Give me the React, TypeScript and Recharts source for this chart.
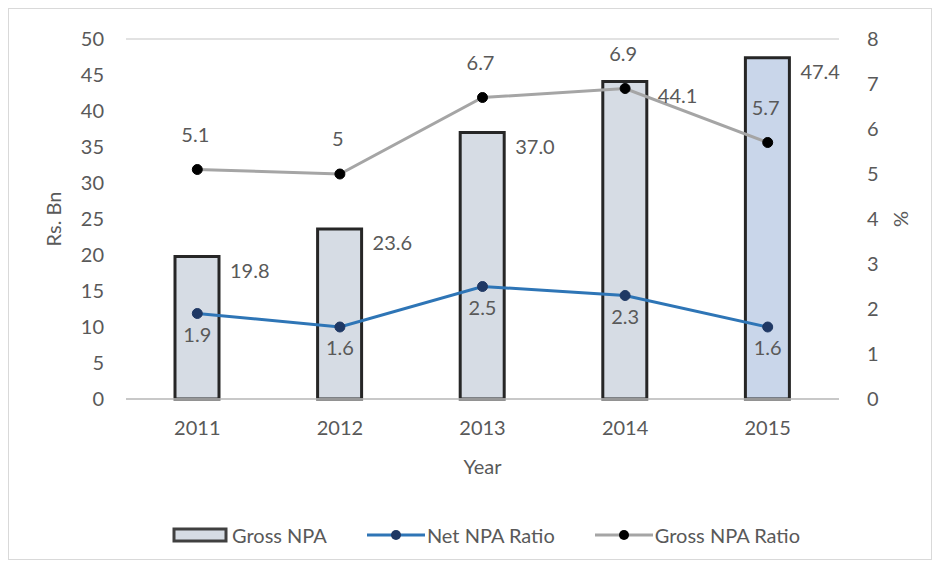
import React from "react";
import {
  ComposedChart,
  Bar,
  Line,
  XAxis,
  YAxis,
  CartesianGrid,
  Legend,
  LabelList,
  Cell,
} from "recharts";

const years = ["2011", "2012", "2013", "2014", "2015"];
const grossNpa = [19.8, 23.6, 37.0, 44.1, 47.4];
const netNpaRatio = [1.9, 1.6, 2.5, 2.3, 1.6];
const grossNpaRatio = [5.1, 5, 6.7, 6.9, 5.7];
const leftTicks = [0, 5, 10, 15, 20, 25, 30, 35, 40, 45, 50];
const rightTicks = [0, 1, 2, 3, 4, 5, 6, 7, 8];

const data = years.map((y, i) => ({
  year: y,
  gross: grossNpa[i],
  net: netNpaRatio[i],
  grossRatio: grossNpaRatio[i],
}));

const FONT = "Lato, 'Open Sans', sans-serif";
const TXT = "#595959";
const FS = 20;

const BarLabel = (props: any) => {
  const { x, y, width, value } = props;
  return (
    <text x={x + width + 11} y={y + 16} fill={TXT} fontSize={FS} fontFamily={FONT} dominantBaseline="middle">
      {Number(value).toFixed(1)}
    </text>
  );
};

const AboveLabel = (props: any) => {
  const { x, y, value } = props;
  return (
    <text x={x - 2} y={y - 33} fill={TXT} fontSize={FS} fontFamily={FONT} textAnchor="middle" dominantBaseline="middle">
      {value}
    </text>
  );
};

const BelowLabel = (props: any) => {
  const { x, y, value } = props;
  return (
    <text x={x} y={y + 23} fill={TXT} fontSize={FS} fontFamily={FONT} textAnchor="middle" dominantBaseline="middle">
      {value}
    </text>
  );
};

const LegendContent = () => (
  <div style={{ display: "flex", justifyContent: "center", fontFamily: FONT, fontSize: FS, color: TXT, paddingLeft: 32 }}>
    <div style={{ display: "flex", alignItems: "center" }}>
      <svg width={56} height={18}>
        <rect x={2} y={3} width={52} height={12} fill="#d6dce4" stroke="#404040" strokeWidth={3} />
      </svg>
      <span style={{ marginLeft: 4 }}>Gross NPA</span>
    </div>
    <div style={{ display: "flex", alignItems: "center", marginLeft: 40 }}>
      <svg width={58} height={18}>
        <line x1={0} y1={9} x2={58} y2={9} stroke="#2e75b6" strokeWidth={3} />
        <circle cx={29} cy={9} r={5} fill="#1f3864" />
      </svg>
      <span style={{ marginLeft: 2 }}>Net NPA Ratio</span>
    </div>
    <div style={{ display: "flex", alignItems: "center", marginLeft: 40 }}>
      <svg width={58} height={18}>
        <line x1={0} y1={9} x2={58} y2={9} stroke="#a5a5a5" strokeWidth={3} />
        <circle cx={29} cy={9} r={5} fill="#000" />
      </svg>
      <span style={{ marginLeft: 2 }}>Gross NPA Ratio</span>
    </div>
  </div>
);

export default function App() {
  return (
    <div style={{ width: 924, height: 552, border: "1px solid #d9d9d9", boxSizing: "border-box", background: "#fff" }}>
      <ComposedChart
        width={922}
        height={550}
        data={data}
        margin={{ top: 30, right: 20, bottom: 46, left: 20 }}
        barCategoryGap={0}
      >
        <CartesianGrid vertical={false} stroke="#d9d9d9" strokeWidth={1.5} />
        <XAxis
          dataKey="year"
          tickLine={false}
          axisLine={{ stroke: "#bfbfbf", strokeWidth: 1.5 }}
          tick={{ fill: TXT, fontSize: FS, fontFamily: FONT }}
          tickMargin={16}
          height={90}
          label={{ value: "Year", position: "insideBottom", offset: 15, fill: TXT, fontSize: FS, fontFamily: FONT }}
        />
        <YAxis
          yAxisId="left"
          domain={[0, 50]}
          ticks={leftTicks}
          interval={0}
          width={97}
          tickLine={false}
          axisLine={false}
          tick={{ fill: TXT, fontSize: FS, fontFamily: FONT }}
          tickMargin={16}
          label={{ value: "Rs. Bn", angle: -90, position: "insideLeft", offset: 25, fill: TXT, fontSize: FS, fontFamily: FONT, style: { textAnchor: "middle" } }}
        />
        <YAxis
          yAxisId="right"
          orientation="right"
          domain={[0, 8]}
          ticks={rightTicks}
          interval={0}
          width={72}
          tickLine={false}
          axisLine={false}
          tick={{ fill: TXT, fontSize: FS, fontFamily: FONT }}
          tickMargin={22}
          label={{ value: "%", angle: -90, position: "insideRight", offset: 10, fill: TXT, fontSize: FS, fontFamily: FONT, style: { textAnchor: "middle" } }}
        />
        <Legend verticalAlign="bottom" content={<LegendContent />} wrapperStyle={{ bottom: 12 }} />
        <Bar yAxisId="left" dataKey="gross" barSize={44} stroke="#262626" strokeWidth={3} isAnimationActive={false}>
          {data.map((d, i) => (
            <Cell key={d.year} fill={i === data.length - 1 ? "#c9d6ea" : "#d6dce4"} />
          ))}
          <LabelList dataKey="gross" content={<BarLabel />} />
        </Bar>
        <Line
          yAxisId="right"
          dataKey="net"
          stroke="#2e75b6"
          strokeWidth={3}
          dot={{ r: 5, fill: "#1f3864", stroke: "#1f3864", strokeWidth: 1 }}
          isAnimationActive={false}
        >
          <LabelList dataKey="net" content={<BelowLabel />} />
        </Line>
        <Line
          yAxisId="right"
          dataKey="grossRatio"
          stroke="#a5a5a5"
          strokeWidth={3}
          dot={{ r: 5, fill: "#000", stroke: "#000", strokeWidth: 1 }}
          isAnimationActive={false}
        >
          <LabelList dataKey="grossRatio" content={<AboveLabel />} />
        </Line>
      </ComposedChart>
    </div>
  );
}
